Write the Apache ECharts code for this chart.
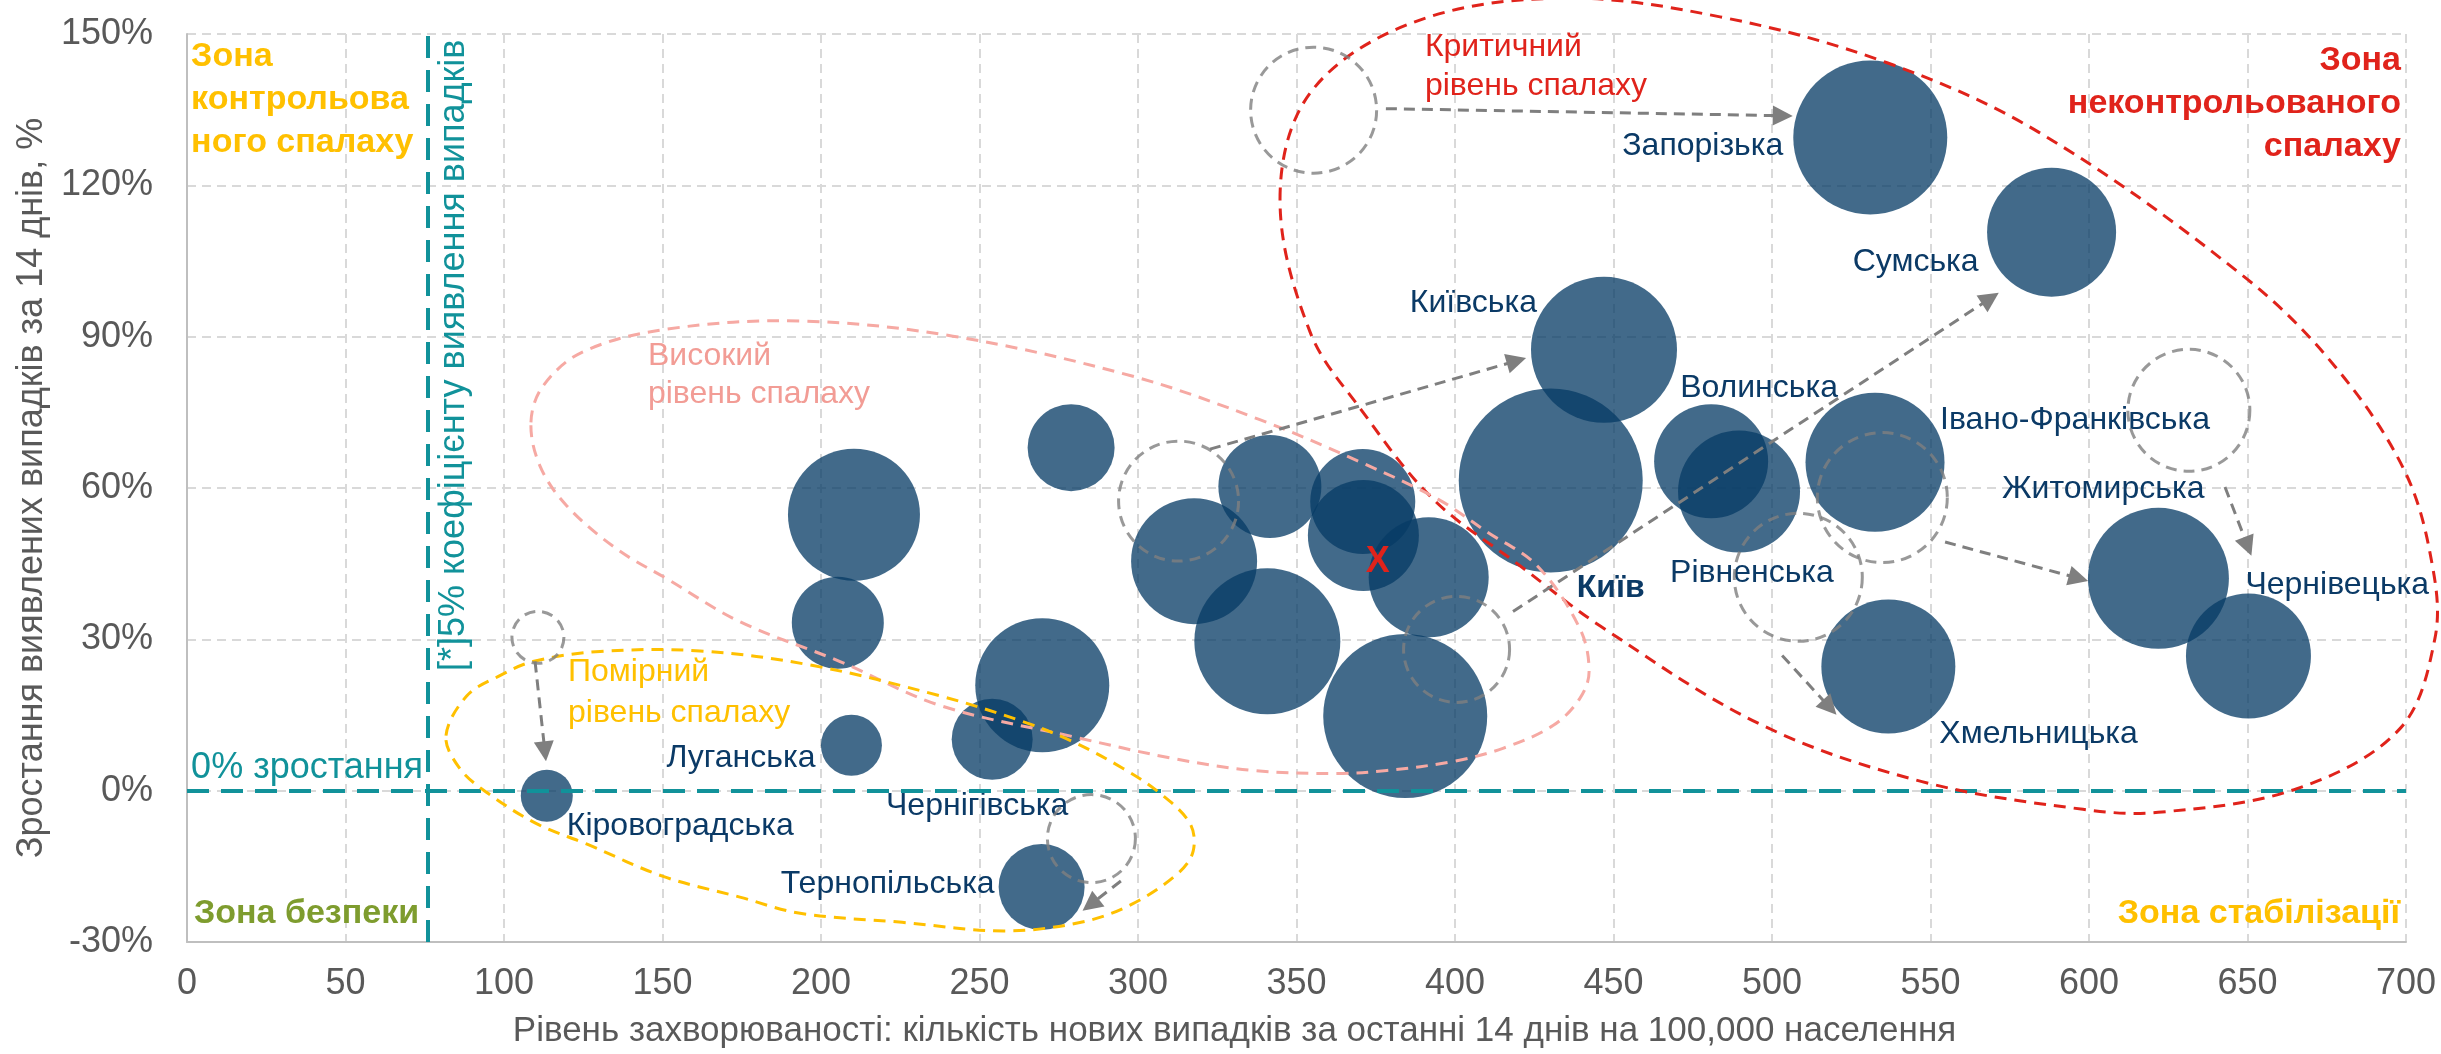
<!DOCTYPE html>
<html><head><meta charset="utf-8">
<script src="https://cdn.jsdelivr.net/npm/echarts@6/dist/echarts.min.js"></script>
<style>html,body{margin:0;padding:0;background:#fff}#c{width:2441px;height:1054px}</style>
</head><body><div id="c"></div>
<script>
// ---------------- DATA ----------------
const xTickValues = [0,50,100,150,200,250,300,350,400,450,500,550,600,650,700];
const yTickValues = [-30,0,30,60,90,120,150];

const regions = ['Кіровоградська','Луганська','Чернігівська','Тернопільська','','','','','','','','','','','','Київ','Київська','Волинська','Рівненська','Запорізька','Сумська','Івано-Франківська','Хмельницька','Житомирська','Чернівецька'];
const incidence = [113.5,209.6,254,269.6,269.8,205.3,210.4,278.9,317.7,341.6,340.8,370.9,371.1,391.7,384.3,430.2,447,480.8,489.6,531,588.2,532.5,536.7,621.9,650.3];
const growth = [-1,9,10.2,-19.1,20.9,33.3,54.7,68,45.5,60.3,29.6,57.3,50.6,42.3,14.8,61.5,87.4,65.3,59.3,129.5,110.7,65.1,24.6,42.1,26.7];
const bubbleValue = [52,61,81,86,134,92,132,87,126,103,146,105,111,120,164,184,146,114,122,154,129,139,134,141,125];

// previous positions (grey dashed circles)
const prevIncidence = [355.4,312.8,400.5,508.3,534.8,631.5,110.7,285.3];
const prevGrowth = [134.9,57.4,28,42.3,58.1,75.4,30.4,-9.5];
const prevValue = [126,120,106,128,130,122,52,88];

// movement arrows
const arrowFrom = [[378.2,135.2],[322.7,67.7],[418.3,35.5],[503.2,26.8],[554.6,49.3],[642.9,60.2],[109.8,25.6],[294.6,-17.9]];
const arrowTo = [[503.4,133.8],[419.4,85.2],[568.9,97.6],[518.2,16.5],[596.7,42.1],[650.1,48.4],[112.9,7.8],[285.0,-22.6]];

// zone outlines
const criticalZone = [[344.8,117.2],[354.3,138.3],[386.4,152.2],[433.1,157.1],[483.6,153.4],[536.3,144.3],[584.5,130.4],[648.9,101.9],[677.6,84.1],[699.7,63.2],[708.5,44],[709.1,30.1],[698.1,12.3],[665.6,0.4],[621.8,-4.3],[598.1,-3.7],[547.3,1.8],[496.5,13.1],[445.7,32.7],[420.5,44.6],[393.1,57.8],[370.3,75.6],[354.3,90.9]];
const highZone = [[108.5,73.0],[112.3,80.2],[124.9,87.0],[151.4,91.5],[193.4,93.1],[241.6,90.1],[298.1,82.2],[338.2,73.6],[370.3,65.1],[394.6,57.8],[410.1,51.3],[425.9,44.6],[439.4,32.1],[442.3,23.6],[439.4,18.3],[430.9,12.9],[415.1,8.4],[399.4,5.8],[378.5,4.0],[362.8,3.4],[336.3,4.0],[311.0,6.4],[279.5,10.7],[237.5,16.9],[206.0,25.6],[174.4,33.5],[151.4,42.0],[135.6,47.9],[119.9,56.4],[111.4,64.3]];
const moderateZone = [[81.7,10.9],[88.3,18.8],[98.7,22.8],[109.1,25.6],[130.3,27.6],[161.8,27.7],[197.5,24.8],[237.5,18.8],[263.7,13.7],[279.5,9.7],[295.3,4.4],[306.9,-0.5],[316.4,-6.5],[317.4,-12.0],[312.6,-16.4],[298.1,-22.5],[282.0,-26.1],[257.7,-27.8],[225.6,-26.1],[193.4,-24.3],[174.4,-21.1],[150.2,-17.0],[126.2,-10.6],[110.1,-6.5],[94.0,-0.1],[85.8,4.6]];

const detectionThreshold = 76;
const zeroGrowth = 0;

// ---------------- STYLE / LAYOUT ----------------
const FONT = '"Liberation Sans", Arial, sans-serif';
const C = {grey:'#595959', grid:'#D9D9D9', navy:'#0B3A66', teal:'#11929A', red:'#E0231B', pink:'#F6A9A3', pinkText:'#F29C95', yellow:'#FFC000', olive:'#7E9C2E', prev:'#7F7F7F', bubble:'rgba(6,59,101,0.76)'};

const labelLayout = {
  'Кіровоградська': ['left', 20, 30],
  'Луганська': ['right', -36, 13],
  'Чернігівська': ['center', -15, 67],
  'Тернопільська': ['right', -47, -3],
  'Київ': ['left', 26, 108],
  'Київська': ['right', -67, -47],
  'Волинська': ['left', -31, -73],
  'Рівненська': ['left', -69, 82],
  'Запорізька': ['right', -87, 9],
  'Сумська': ['right', -73, 30],
  'Івано-Франківська': ['left', 65, -42],
  'Хмельницька': ['left', 51, 68],
  'Житомирська': ['right', 46, -89],
  'Чернівецька': ['left', -3, -71]
};

const notes = [
  {text:'Критичний\nрівень спалаху', at:[390.5,143.6], color:C.red, align:'left', size:32, lh:39},
  {text:'Високий\nрівень спалаху', at:[145.4,82.3], color:C.pinkText, align:'left', size:32, lh:38},
  {text:'Помірний\nрівень спалаху', at:[120.2,19.5], color:C.yellow, align:'left', size:32, lh:41},
  {text:'Зона\nконтрольова\nного спалаху', at:[1.3,136.9], color:C.yellow, align:'left', size:34, lh:43, bold:true},
  {text:'Зона\nнеконтрольованого\nспалаху', at:[698.4,136.2], color:C.red, align:'right', size:34, lh:43, bold:true},
  {text:'Зона безпеки', at:[2.2,-24.3], color:C.olive, align:'left', size:34, bold:true},
  {text:'Зона стабілізації', at:[698.1,-24.3], color:C.yellow, align:'right', size:34, bold:true},
  {text:'0% зростання', at:[1.3,4.4], color:C.teal, align:'left', size:36},
  {text:'[*]5% коефіцієнту виявлення випадків', at:[84.2,86.3], color:C.teal, align:'center', size:36, rot:true},
  {text:'X', at:[375.6,45.3], color:C.red, align:'center', size:36, bold:true}
];

// ---------------- BUILD ----------------
const bubbleData = regions.map((n,i)=>{
  const L = labelLayout[n];
  return {
    name:n, value:[incidence[i], growth[i], bubbleValue[i]],
    label: L ? {show:true, position:'inside', align:L[0], verticalAlign:'middle', offset:[L[1], L[2]],
      formatter:n, color:C.navy, fontSize:32, fontFamily:FONT, fontWeight: n==='Київ' ? 'bold' : 'normal'} : {show:false}
  };
});
const prevData = prevIncidence.map((x,i)=>[x, prevGrowth[i], prevValue[i]]);
const arrowData = arrowFrom.map((f,i)=>({coords:[f, arrowTo[i]]}));
const zones = [
  {pts:criticalZone, color:C.red},
  {pts:highZone, color:C.pink},
  {pts:moderateZone, color:C.yellow}
];

const chart = echarts.init(document.getElementById('c'), null, {renderer:'canvas'});
chart.setOption({
  animation:false,
  backgroundColor:'#fff',
  grid:{left:187, right:35, top:34, bottom:110, containLabel:false},
  xAxis:{
    type:'value', min:xTickValues[0], max:xTickValues[xTickValues.length-1], interval:xTickValues[1]-xTickValues[0],
    axisLine:{show:true, onZero:false, lineStyle:{color:'#BFBFBF', width:2}},
    axisTick:{show:false},
    axisLabel:{color:C.grey, fontSize:36, fontFamily:FONT, margin:24},
    splitLine:{show:true, lineStyle:{color:C.grid, width:2, type:[9,6]}},
    name:'Рівень захворюваності: кількість нових випадків за останні 14 днів на 100,000 населення',
    nameLocation:'middle', nameGap:72,
    nameTextStyle:{color:C.grey, fontSize:35, fontFamily:FONT, padding:[0,124,0,0]}
  },
  yAxis:{
    type:'value', min:yTickValues[0], max:yTickValues[yTickValues.length-1], interval:yTickValues[1]-yTickValues[0],
    axisLine:{show:true, onZero:false, lineStyle:{color:'#BFBFBF', width:2}},
    axisTick:{show:false},
    axisLabel:{color:C.grey, fontSize:36, fontFamily:FONT, margin:34, formatter:'{value}%'},
    splitLine:{show:true, lineStyle:{color:C.grid, width:2, type:[9,6]}},
    name:'Зростання виявлених випадків за 14 днів, %',
    nameLocation:'middle', nameGap:136, nameRotate:90,
    nameTextStyle:{color:C.grey, fontSize:36, fontFamily:FONT}
  },
  series:[
    {
      type:'scatter', name:'bubbles', z:3,
      data:bubbleData,
      symbol:'circle',
      symbolSize:(v)=>v[2],
      itemStyle:{color:C.bubble, opacity:1},
      emphasis:{disabled:true}
    },
    {
      type:'custom', name:'zones', z:5, silent:true, clip:false,
      data:zones.map((z,i)=>[i,0]),
      renderItem:(params, api)=>{
        const z = zones[params.dataIndex];
        return {type:'polygon', shape:{points:z.pts.map(p=>api.coord(p)), smooth:0.35},
          style:{fill:'none', stroke:z.color, lineWidth:3, lineDash:[12,8]}};
      }
    },
    {
      type:'scatter', name:'previous', z:6, silent:true,
      data:prevData,
      symbol:'circle', symbolSize:(v)=>v[2],
      itemStyle:{color:'rgba(0,0,0,0)', borderColor:C.prev, borderWidth:3, borderType:[11,7]}
    },
    {
      type:'lines', name:'arrows', coordinateSystem:'cartesian2d', z:6, silent:true,
      data:arrowData,
      symbol:['none','triangle'], symbolSize:[16,20],
      lineStyle:{color:C.prev, width:3, type:[11,7], opacity:1}
    },
    {
      type:'scatter', name:'thresholds', z:7, silent:true, data:[],
      markLine:{
        silent:true, symbol:['none','none'], label:{show:false}, animation:false,
        lineStyle:{color:C.teal, width:4, type:[22,12]},
        data:[{xAxis:detectionThreshold}, {yAxis:zeroGrowth}]
      }
    },
    {
      type:'custom', name:'notes', z:10, silent:true, clip:false,
      data:notes.map((n,i)=>[i,0]),
      renderItem:(params, api)=>{
        const n = notes[params.dataIndex];
        const p = api.coord(n.at);
        return {type:'text', x:p[0], y:p[1], rotation:n.rot ? Math.PI/2 : 0,
          style:{text:n.text, fill:n.color, fontSize:n.size, fontFamily:FONT, fontWeight:n.bold?'bold':'normal',
            align:n.align, verticalAlign:'middle', lineHeight:n.lh || n.size*1.15}};
      }
    }
  ]
});
</script></body></html>
